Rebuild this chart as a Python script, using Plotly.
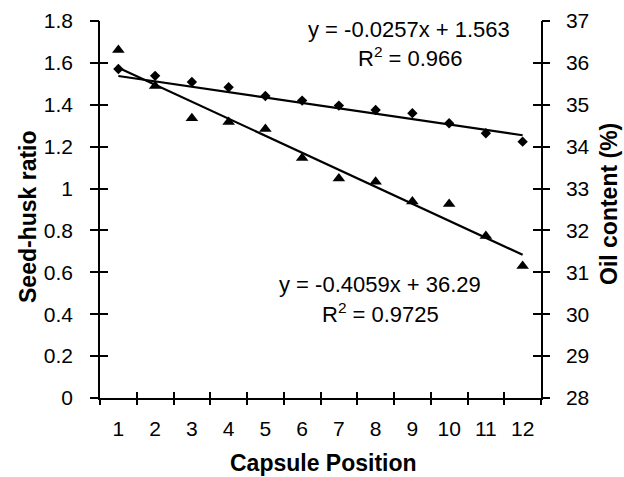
import plotly.graph_objects as go

# ---- data ----
positions = [1, 2, 3, 4, 5, 6, 7, 8, 9, 10, 11, 12]
position_labels = ["1", "2", "3", "4", "5", "6", "7", "8", "9", "10", "11", "12"]
seed_husk_ratio = [1.571, 1.538, 1.509, 1.484, 1.442, 1.420, 1.396, 1.375, 1.360, 1.312, 1.264, 1.224]
oil_content = [36.31, 35.45, 34.68, 34.59, 34.42, 33.73, 33.24, 33.16, 32.69, 32.63, 31.87, 31.15]

ratio_slope, ratio_intercept, ratio_r2 = -0.0257, 1.563, "0.966"
oil_slope, oil_intercept, oil_r2 = -0.4059, 36.29, "0.9725"

left_ticks = [0, 0.2, 0.4, 0.6, 0.8, 1.0, 1.2, 1.4, 1.6, 1.8]
right_ticks = [28, 29, 30, 31, 32, 33, 34, 35, 36, 37]
x_boundaries = [p - 0.5 for p in positions] + [positions[-1] + 0.5]

trend_x = [positions[0], positions[-1]]
ratio_trend = [ratio_slope * x + ratio_intercept for x in trend_x]
oil_trend = [oil_slope * x + oil_intercept for x in trend_x]

FONT = "Liberation Sans, Arial, sans-serif"
W, H = 624, 477
L, R, T, B = 100, 83, 21, 79

fig = go.Figure()

fig.add_trace(go.Scatter(x=positions, y=seed_husk_ratio, mode="markers",
                         marker=dict(symbol="diamond", size=8, color="black"),
                         xaxis="x", yaxis="y"))
fig.add_trace(go.Scatter(x=trend_x, y=ratio_trend, mode="lines",
                         line=dict(color="black", width=2.2), xaxis="x", yaxis="y"))
fig.add_trace(go.Scatter(x=positions, y=oil_content, mode="markers",
                         marker=dict(symbol="triangle-up", size=11, color="black"),
                         xaxis="x", yaxis="y2"))
fig.add_trace(go.Scatter(x=trend_x, y=oil_trend, mode="lines",
                         line=dict(color="black", width=2.2), xaxis="x", yaxis="y2"))

# invisible carriers so that the tick-only overlay axes get drawn
for xa, ya, yv in [("x2", "y3", seed_husk_ratio), ("x3", "y4", seed_husk_ratio),
                   ("x2", "y5", oil_content), ("x3", "y6", oil_content)]:
    fig.add_trace(go.Scatter(x=positions, y=yv, mode="markers",
                             marker=dict(opacity=0, size=1), hoverinfo="skip",
                             xaxis=xa, yaxis=ya))

tickfont = dict(family=FONT, size=21, color="black")
clear = "rgba(0,0,0,0)"
xr = [0.5, 12.5]

common_overlay = dict(showgrid=False, zeroline=False, showticklabels=False,
                      showline=False, tickcolor="black", tickwidth=1.5)

fig.update_layout(
    width=W, height=H,
    margin=dict(l=L, r=R, t=T, b=B, autoexpand=False),
    paper_bgcolor="white", plot_bgcolor="white",
    showlegend=False,
    xaxis=dict(range=xr, tickmode="array", tickvals=positions, ticktext=position_labels,
               ticks="outside", ticklen=11, tickcolor=clear, tickfont=tickfont,
               showline=True, linecolor="black", linewidth=1.5,
               showgrid=False, zeroline=False, anchor="y"),
    xaxis2=dict(overlaying="x", anchor="y", range=xr, tickmode="array", tickvals=x_boundaries,
                ticks="outside", ticklen=6, **common_overlay),
    xaxis3=dict(overlaying="x", anchor="y", range=xr, tickmode="array", tickvals=x_boundaries,
                ticks="inside", ticklen=6, **common_overlay),
    yaxis=dict(range=[0, 1.8], tickmode="array", tickvals=left_ticks,
               ticktext=[f"{v:g}" for v in left_ticks],
               ticks="outside", ticklen=21, tickcolor=clear, tickfont=tickfont,
               showline=True, linecolor="black", linewidth=1.5,
               showgrid=False, zeroline=False, anchor="x"),
    yaxis2=dict(range=[28, 37], tickmode="array", tickvals=right_ticks, overlaying="y", side="right",
                ticks="outside", ticklen=19, tickcolor=clear, tickfont=tickfont,
                showline=True, linecolor="black", linewidth=1.5,
                showgrid=False, zeroline=False, anchor="x"),
    yaxis3=dict(overlaying="y", side="left", anchor="x", range=[0, 1.8], tickmode="array",
                tickvals=left_ticks, ticks="outside", ticklen=9, **common_overlay),
    yaxis4=dict(overlaying="y", side="left", anchor="x", range=[0, 1.8], tickmode="array",
                tickvals=left_ticks, ticks="inside", ticklen=8, **common_overlay),
    yaxis5=dict(overlaying="y", side="right", anchor="x", range=[28, 37], tickmode="array",
                tickvals=right_ticks, ticks="outside", ticklen=8, **common_overlay),
    yaxis6=dict(overlaying="y", side="right", anchor="x", range=[28, 37], tickmode="array",
                tickvals=right_ticks, ticks="inside", ticklen=8, **common_overlay),
)

pw, ph = W - L - R, H - T - B


def px(xp):
    return (xp - L) / pw


def py(yp):
    return (H - B - yp) / ph


eqfont = dict(family=FONT, size=22, color="black")
titlefont = dict(family=FONT, size=23, color="black")

annots = [
    dict(text=f"y = {ratio_slope}x + {ratio_intercept}", x=px(409), y=py(30), font=eqfont),
    dict(text=f"R<sup>2</sup> = {ratio_r2}", x=px(410), y=py(57), font=eqfont),
    dict(text=f"y = {oil_slope}x + {oil_intercept}", x=px(380), y=py(284), font=eqfont),
    dict(text=f"R<sup>2</sup> = {oil_r2}", x=px(380), y=py(313), font=eqfont),
    dict(text="<b>Capsule Position</b>", x=px(323), y=py(463), font=titlefont),
    dict(text="<b>Seed-husk ratio</b>", x=px(28), y=py(217), font=titlefont, textangle=-90),
    dict(text="<b>Oil content (%)</b>", x=px(609), y=py(204), font=titlefont, textangle=-90),
]
for a in annots:
    fig.add_annotation(xref="paper", yref="paper", showarrow=False,
                       xanchor="center", yanchor="middle", **a)

fig.write_html("out.html", config={"displayModeBar": False},
               post_script="document.body.style.margin='0';document.body.style.padding='0';")
